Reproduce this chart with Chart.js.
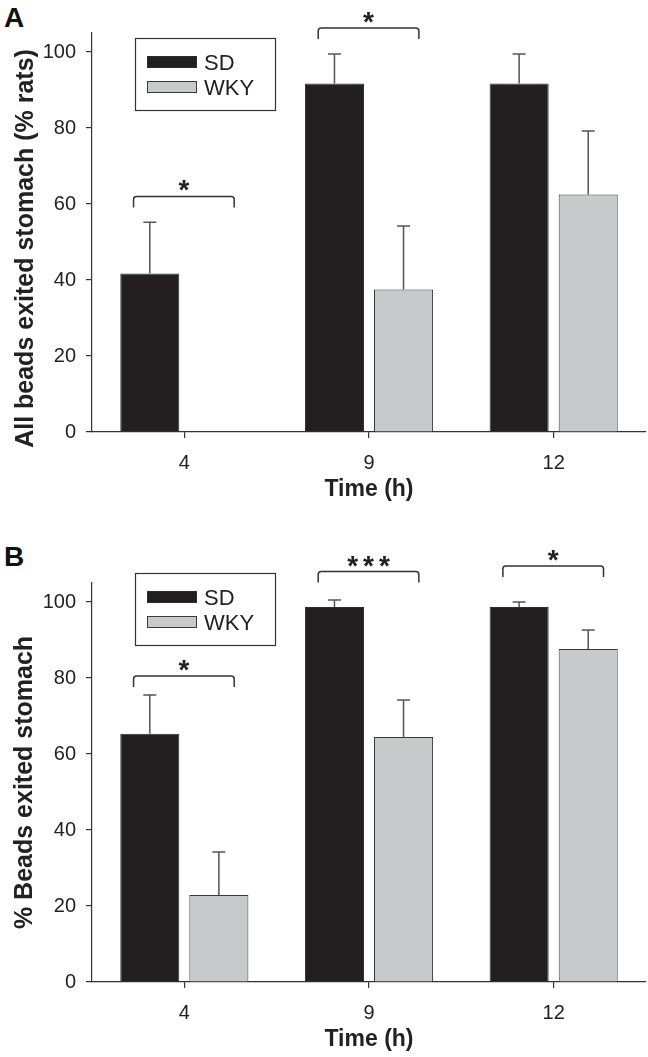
<!DOCTYPE html>
<html><head><meta charset="utf-8">
<script src="https://cdn.jsdelivr.net/npm/chart.js@4"></script>
<style>
body{margin:0;background:#fff;width:648px;height:1057px;position:relative;overflow:hidden;font-family:'Liberation Sans',Arial,sans-serif}
canvas{position:absolute;left:0}
.lbl{position:absolute;left:4px;font-weight:bold;font-size:28px;line-height:28px;color:#111}
</style></head><body>
<div class="lbl" style="top:4px">A</div>
<div class="lbl" style="top:543px">B</div>
<canvas id="cA" width="648" height="505" style="top:0"></canvas>
<canvas id="cB" width="648" height="535" style="top:520px"></canvas>
<script>
const categories = ['4', '9', '12'];
const seriesNames = ['SD', 'WKY'];
const yTicks = [0, 20, 40, 60, 80, 100];
const xTitle = 'Time (h)';

// Panel A: All beads exited stomach (% rats)
const yTitleA = 'All beads exited stomach (% rats)';
const sdA = [41.7, 91.7, 91.7];
const sdAErr = [13.5, 7.8, 7.8];
const wkyA = [0, 37.5, 62.5];
const wkyAErr = [0, 16.7, 16.7];
const sigACats = [0, 1];
const sigALevels = [62, 106.3];
const sigALabels = ['*', '*'];

// Panel B: % Beads exited stomach
const yTitleB = '% Beads exited stomach';
const sdB = [65.3, 98.7, 98.7];
const sdBErr = [10.2, 1.8, 1.3];
const wkyB = [22.9, 64.5, 87.6];
const wkyBErr = [11.3, 9.7, 5.0];
const sigBCats = [0, 1, 2];
const sigBLevels = [80.5, 108, 109.5];
const sigBLabels = ['*', '***', '*'];

const FONT = "'Liberation Sans', Arial, sans-serif";
Chart.defaults.font.family = FONT;

const overlay = {
  id: 'overlay',
  afterDatasetsDraw(chart, args, opts) {
    const ctx = chart.ctx;
    const xs = chart.scales.x, ys = chart.scales.y;
    ctx.save();
    // error bars (upper only)
    chart.data.datasets.forEach((ds, di) => {
      const meta = chart.getDatasetMeta(di);
      meta.data.forEach((bar, i) => {
        const e = ds.errors[i];
        if (!e) return;
        const base = ys.getPixelForValue(ds.data[i]);
        const top = ys.getPixelForValue(ds.data[i] + e);
        ctx.strokeStyle = '#555';
        ctx.lineWidth = 1.5;
        ctx.beginPath();
        ctx.moveTo(bar.x, base);
        ctx.lineTo(bar.x, top);
        ctx.moveTo(bar.x - 6.5, top);
        ctx.lineTo(bar.x + 6.5, top);
        ctx.stroke();
      });
    });
    // significance brackets
    const catW = xs.width / categories.length;
    opts.cats.forEach((c, k) => {
      const cx = xs.getPixelForValue(c);
      const x0 = cx - catW * 0.275, x1 = cx + catW * 0.27;
      const by = ys.getPixelForValue(opts.levels[k]);
      const drop = 11, r = 3;
      ctx.strokeStyle = '#333';
      ctx.lineWidth = 1.5;
      ctx.beginPath();
      ctx.moveTo(x0, by + drop);
      ctx.lineTo(x0, by + r);
      ctx.quadraticCurveTo(x0, by, x0 + r, by);
      ctx.lineTo(x1 - r, by);
      ctx.quadraticCurveTo(x1, by, x1, by + r);
      ctx.lineTo(x1, by + drop);
      ctx.stroke();
      ctx.fillStyle = '#222';
      ctx.font = 'bold 28px ' + FONT;
      ctx.textAlign = 'center';
      ctx.textBaseline = 'alphabetic';
      const sp = opts.labels[k].length > 1 ? 5 : 0;
      ctx.letterSpacing = sp + 'px';
      ctx.fillText(opts.labels[k], (x0 + x1) / 2 + sp / 2, by + 3);
      ctx.letterSpacing = '0px';
    });
    ctx.restore();
  },
  afterDraw(chart, args, opts) {
    const ctx = chart.ctx;
    const ca = chart.chartArea;
    ctx.save();
    // legend box
    const lx = ca.left + 43, ly = ca.top + opts.legendDy;
    ctx.strokeStyle = '#333';
    ctx.lineWidth = 1.2;
    ctx.strokeRect(lx + 0.5, ly + 0.5, 140, 72);
    chart.data.datasets.forEach((ds, i) => {
      const sy = ly + 18 + i * 25;
      ctx.fillStyle = ds.backgroundColor;
      ctx.fillRect(lx + 12, sy, 50, 12);
      ctx.strokeStyle = ds.borderColor;
      ctx.lineWidth = 1;
      ctx.strokeRect(lx + 12.5, sy + 0.5, 49, 11);
      ctx.fillStyle = '#222';
      ctx.font = '22px ' + FONT;
      ctx.textAlign = 'left';
      ctx.textBaseline = 'alphabetic';
      ctx.fillText(ds.label, lx + 69, sy + 14);
    });
    // y-axis title
    ctx.translate(opts.yTitleX, (ca.top + ca.bottom) / 2 + opts.yTitleShift);
    ctx.rotate(-Math.PI / 2);
    ctx.fillStyle = '#222';
    ctx.font = 'bold 25px ' + FONT;
    ctx.textAlign = 'center';
    ctx.textBaseline = 'alphabetic';
    ctx.fillText(opts.yTitle, 0, 0);
    ctx.restore();
  }
};

function makeChart(id, sd, sdErr, wky, wkyErr, cats, levels, labels, yTitle, padTop, legendDy, yTitleX, yTitleShift) {
  return new Chart(document.getElementById(id), {
    type: 'bar',
    data: {
      labels: categories,
      datasets: [
        {label: seriesNames[0], data: sd, errors: sdErr, backgroundColor: '#231f20', borderColor: '#2e2e2e', borderWidth: 1},
        {label: seriesNames[1], data: wky, errors: wkyErr, backgroundColor: '#c8c9cb', borderColor: '#3a3a3a', borderWidth: 1}
      ]
    },
    options: {
      responsive: false,
      animation: false,
      devicePixelRatio: 1,
      categoryPercentage: 0.748,
      barPercentage: 0.855,
      layout: {padding: {top: padTop, right: 2, left: 0, bottom: 0}},
      plugins: {
        legend: {display: false},
        tooltip: {enabled: false},
        overlay: {cats, levels, labels, legendDy, yTitle, yTitleX, yTitleShift}
      },
      scales: {
        x: {
          grid: {offset: false, drawOnChartArea: false, tickLength: 6, color: '#333', lineWidth: 1.2},
          border: {color: '#333', width: 1.2},
          ticks: {font: {size: 20}, color: '#222', padding: 13},
          title: {display: true, text: xTitle, font: {size: 23, weight: 'bold'}, color: '#222', padding: {top: 0, bottom: 2}},
          afterFit(s) { s.height = 73; }
        },
        y: {
          min: 0, max: 105,
          grid: {drawOnChartArea: false, tickLength: 6, color: '#333', lineWidth: 1.2},
          border: {color: '#333', width: 1.2},
          ticks: {font: {size: 20}, color: '#222', padding: 10},
          afterBuildTicks(s) { s.ticks = yTicks.map(v => ({value: v})); },
          title: {display: false},
          afterFit(s) { s.width = 92; }
        }
      }
    },
    plugins: [overlay]
  });
}

makeChart('cA', sdA, sdAErr, wkyA, wkyAErr, sigACats, sigALevels, sigALabels, yTitleA, 33, 5, 33, 16);
makeChart('cB', sdB, sdBErr, wkyB, wkyBErr, sigBCats, sigBLevels, sigBLabels, yTitleB, 63, -10, 32, 0);
</script>
</body></html>
